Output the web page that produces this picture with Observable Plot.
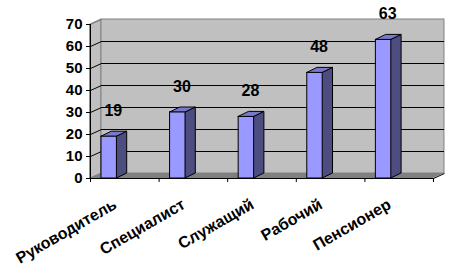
<!DOCTYPE html>
<html>
<head>
<meta charset="utf-8">
<script src="https://cdn.jsdelivr.net/npm/d3@7"></script>
<script src="https://cdn.jsdelivr.net/npm/@observablehq/plot@0.6"></script>
<style>
  html, body { margin: 0; padding: 0; background: #fff; }
</style>
</head>
<body>
<div id="chart"></div>
<script>
const categories = ["Руководитель", "Специалист", "Служащий", "Рабочий", "Пенсионер"];
const values = [19, 30, 28, 48, 63];
const yTicks = [0, 10, 20, 30, 40, 50, 60, 70];

// 3D projection constants (in data units)
const DX = 0.16, DY = 2.27;     // wall depth
const BX = 0.15, BY = 2.27;     // bar depth
const OFF = 0.16, BW = 0.225;   // bar front offset and width within a category slot

const bars = categories.map((c, i) => ({cat: c, i, v: values[i], x1: i + OFF, x2: i + OFF + BW}));
const sideFaces = bars.flatMap(b => [
  {cat: b.cat, x: b.x2, y1: 0, y2: b.v},
  {cat: b.cat, x: b.x2 + BX, y1: BY, y2: b.v + BY}
]);
const topFaces = bars.flatMap(b => [
  {cat: b.cat, y: b.v, x1: b.x1, x2: b.x2},
  {cat: b.cat, y: b.v + BY, x1: b.x1 + BX, x2: b.x2 + BX}
]);
const grid = yTicks.filter(t => t > 0 && t < 70);
const n = categories.length;

const font = "'Liberation Sans', Arial, sans-serif";

const chart = Plot.plot({
  width: 457,
  height: 279,
  marginLeft: 90,
  marginRight: 24,
  marginTop: 24,
  marginBottom: 101,
  style: {fontFamily: font, fontSize: "15px", fontWeight: "bold", color: "#000", background: "#fff"},
  x: {type: "linear", domain: [0, n], axis: null},
  y: {domain: [0, 70], axis: null},
  marks: [
    Plot.areaY([{x: 0, y1: 0, y2: 70}, {x: DX, y1: DY, y2: 70 + DY}], {x: "x", y1: "y1", y2: "y2", fill: "#C0C0C0", stroke: "#808080", strokeWidth: 1}),
    Plot.rect([0], {x1: DX, x2: n + DX, y1: DY, y2: 70 + DY, fill: "#C0C0C0", stroke: "#808080", strokeWidth: 1}),
    Plot.areaX([{y: 0, x1: 0, x2: n}, {y: DY, x1: DX, x2: n + DX}], {y: "y", x1: "x1", x2: "x2", fill: "#808080"}),
    Plot.ruleY(grid, {y: d => d + DY, x1: DX, x2: n + DX, stroke: "#000", strokeWidth: 1}),
    Plot.link(grid, {x1: 0, y1: d => d, x2: DX, y2: d => d + DY, stroke: "#000", strokeWidth: 1}),
    Plot.link([70], {x1: 0, y1: d => d, x2: DX, y2: d => d + DY, stroke: "#808080", strokeWidth: 1}),
    Plot.link([0], {x1: n, y1: 0, x2: n + DX, y2: DY, stroke: "#000", strokeWidth: 1}),
    Plot.areaY(sideFaces, {x: "x", y1: "y1", y2: "y2", z: "cat", fill: "#4D4D80", stroke: "#000", strokeWidth: 1}),
    Plot.areaX(topFaces, {y: "y", x1: "x1", x2: "x2", z: "cat", fill: "#7878CC", stroke: "#000", strokeWidth: 1}),
    Plot.rect(bars, {x1: "x1", x2: "x2", y1: 0, y2: "v", fill: "#9999FF", stroke: "#000", strokeWidth: 1}),
    Plot.ruleY([0], {x1: 0, x2: n, stroke: "#000"}),
    Plot.ruleX([0], {y1: 0, y2: 70, stroke: "#000"}),
    Plot.axisY({ticks: yTicks, tickSize: 4, tickPadding: 4, fontSize: 15, fontWeight: "bold"}),
    Plot.axisX({ticks: d3.range(n + 1), tickSize: 4, tickFormat: () => ""}),
    Plot.text(bars, {x: d => d.x1 + BW / 2 + 0.06, y: "v", text: d => String(d.v), dy: -26, fontSize: 16, fontWeight: "bold", fill: "#000"}),
    Plot.text(bars, {x: d => d.i + 0.5, y: 0, text: "cat", rotate: -30, textAnchor: "end", lineAnchor: "bottom", dx: -7, dy: 29, fontSize: 16, fontWeight: "bold", fill: "#000"})
  ]
});
document.getElementById("chart").appendChild(chart);
</script>
</body>
</html>
